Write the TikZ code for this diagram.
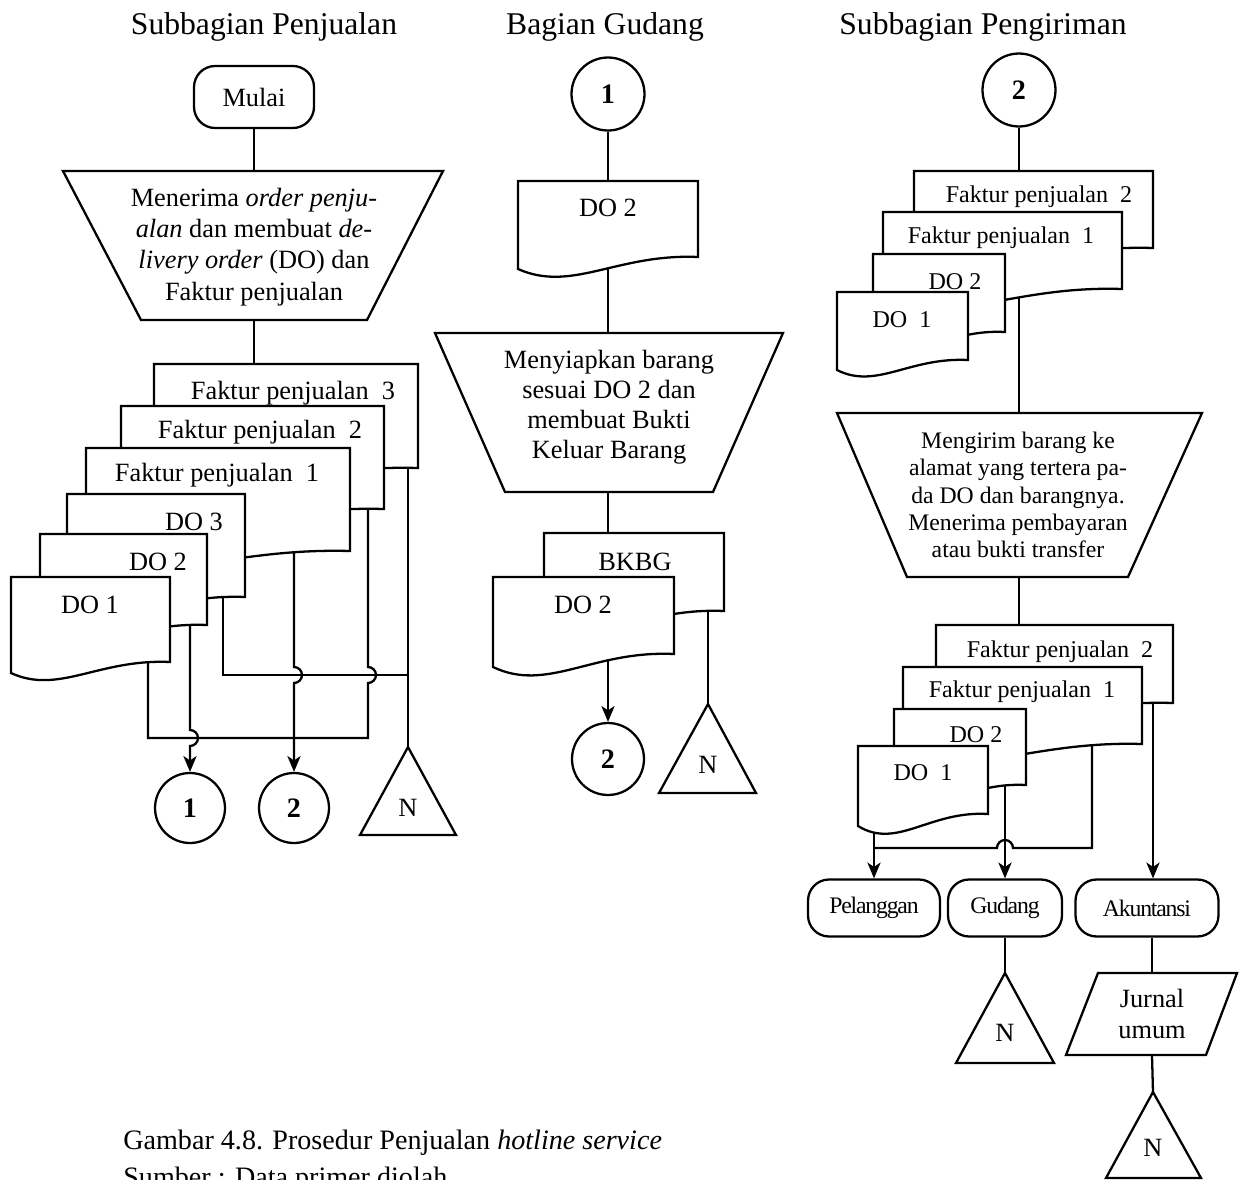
\documentclass[tikz,border=0pt]{standalone}
\usepackage{fontspec}
\setmainfont{Liberation Serif}
\newfontfamily\tightfont[LetterSpace=-5]{Liberation Serif}
\usetikzlibrary{arrows.meta,calc}
\pgfdeclarelayer{bg}
\pgfsetlayers{bg,main}

% name, x0, y0, w, hl, hr, text, textx, texty
\newcommand{\DocShape}[9]{%
  \pgfmathsetmacro\dsR{#2+#4}%
  \pgfmathsetmacro\dsB{#3+#5}%
  \pgfmathsetmacro\dsBR{#3+#6}%
  \pgfmathsetmacro\dsD{#5-#6}%
  \pgfmathsetmacro\dsCax{#2+0.3*#4}%
  \pgfmathsetmacro\dsCay{\dsB+2.0*\dsD}%
  \pgfmathsetmacro\dsCbx{#2+0.55*#4}%
  \pgfmathsetmacro\dsCby{\dsB-1.3*\dsD}%
  \pgfmathsetmacro\dsW{#4*0.02}%
  \pgfmathsetmacro\dsH{#5*0.02}%
  \node[docbox, minimum width=\dsW cm, minimum height=\dsH cm, anchor=north west] (#1) at (#2,#3) {};
  \draw[shapeline, fill=white] (#2,#3) -- (\dsR,#3) -- (\dsR,\dsBR)
     .. controls (\dsCbx,\dsCby) and (\dsCax,\dsCay) .. (#2,\dsB) -- cycle;
  \node[doctext] (#1-t) at (#8,#9) {#7};
}

\begin{document}
\begin{tikzpicture}[x=0.02cm,y=-0.02cm,
  shapeline/.style={line width=1.3pt, line join=miter},
  conn/.style={line width=1.3pt},
  arr/.style={conn, -{Stealth[length=9pt,width=7.5pt,inset=2.5pt]}},
  docbox/.style={draw=none, inner sep=0pt, rectangle},
  doctext/.style={inner sep=0pt, font=\fontsize{15}{17.2}\selectfont},
  rdoc/.style={doctext/.style={inner sep=0pt, font=\fontsize{13.7}{16}\selectfont}},
  title/.style={inner sep=0pt, font=\fontsize{18}{21}\selectfont},
  txt/.style={inner sep=0pt, align=center, font=\fontsize{15}{17.4}\selectfont},
  term/.style={draw, line width=1.3pt, rounded corners=12pt, fill=white, inner sep=0pt},
  circ/.style={draw, circle, line width=1.3pt, fill=white, inner sep=0pt,
     font=\bfseries\fontsize{16}{18}\selectfont},
  ntext/.style={inner sep=0pt, font=\fontsize{15}{17}\selectfont}
]
\useasboundingbox (0,0) rectangle (1242,1180);
\begin{pgfonlayer}{bg}
  \fill[white] (0,0) rectangle (1242,1180);
\end{pgfonlayer}

% ---------- titles
\node[title] (hdA) at (264,27) {Subbagian Penjualan};
\node[title] (hdB) at (605,27) {Bagian Gudang};
\node[title] (hdC) at (983,27) {Subbagian Pengiriman};

% ================= LEFT COLUMN
\node[term, minimum width=2.4cm, minimum height=1.24cm, font=\fontsize{15}{17}\selectfont] (mulai) at (254,97) {Mulai};

\draw[shapeline, fill=white] (63,171) -- (443,171) -- (367,320) -- (141,320) -- cycle;
\coordinate (t1top) at (254,171);
\coordinate (t1bot) at (254,320);
\node[txt, font=\fontsize{15}{17.8}\selectfont] (t1) at (254,247)
  {Menerima \textit{order penju-}\\\textit{alan} dan membuat \textit{de-}\\\textit{livery order} (DO) dan\\Faktur penjualan};

\DocShape{fp3}{154}{364}{264}{115}{104}{Faktur penjualan~~3}{293}{393}
\DocShape{fp2}{121}{406}{263}{114}{103}{Faktur penjualan~~2}{260}{432}
\DocShape{fp1}{86}{448}{264}{114}{103}{Faktur penjualan~~1}{217}{475}
\DocShape{do3}{67}{494}{178}{114}{103}{DO 3}{194}{522}
\DocShape{do2}{40}{534}{167}{102}{91}{DO 2}{158}{562}
\DocShape{do1}{11}{577}{159}{96}{85}{DO 1}{90}{605}

\coordinate (pfp3) at (408,420);
\coordinate (pfp2) at (368,470);
\coordinate (pfp1) at (294,520);
\coordinate (pdo3) at (223,560);
\coordinate (pdo2) at (190,600);
\coordinate (pdo1) at (148,640);
\coordinate (jL1) at (408,675);

\node[circ, minimum size=1.4cm] (c1L) at (190,808) {1};
\node[circ, minimum size=1.4cm] (c2L) at (294,808) {2};

\draw[shapeline, fill=white] (408,747) -- (456,835) -- (360,835) -- cycle;
\coordinate (nLtop) at (408,747);
\node[ntext] (nL) at (408,808) {N};

% ================= MIDDLE COLUMN
\node[circ, minimum size=1.46cm] (c1M) at (608,94) {1};
\DocShape{doM}{518}{181}{180}{88}{76}{DO 2}{608}{208}
\coordinate (pdoM) at (608,230);

\draw[shapeline, fill=white] (435,333) -- (783,333) -- (713,492) -- (505,492) -- cycle;
\coordinate (t2top) at (608,333);
\coordinate (t2bot) at (608,492);
\node[txt, font=\fontsize{15}{17.1}\selectfont] (t2) at (609,407)
  {Menyiapkan barang\\sesuai DO 2 dan\\membuat Bukti\\Keluar Barang};

\DocShape{bkbg}{544}{533}{180}{90}{78}{BKBG}{635}{562}
\DocShape{doM2}{493}{577}{181}{90}{77}{DO 2}{583}{605}
\coordinate (pbkbg) at (708,580);
\coordinate (pdoM2) at (608,630);

\node[circ, minimum size=1.44cm] (c2M) at (608,759) {2};
\draw[shapeline, fill=white] (708,704) -- (756,793) -- (659,793) -- cycle;
\coordinate (nMtop) at (708,704);
\node[ntext] (nM) at (708,765) {N};

% ================= RIGHT COLUMN
\node[circ, minimum size=1.46cm] (c2R) at (1019,90) {2};

\begin{scope}[rdoc]
\DocShape{rfp2}{914}{171}{239}{88}{77}{Faktur penjualan~~2}{1039}{197}
\DocShape{rfp1}{883}{212}{239}{89}{77}{Faktur penjualan~~1}{1001}{238}
\DocShape{rdo2}{873}{254}{132}{89}{78}{DO 2}{955}{282}
\DocShape{rdo1}{837}{292}{131}{78}{68}{DO~~1}{902}{320}
\end{scope}
\coordinate (prfp1) at (1019,260);

\draw[shapeline, fill=white] (837,413) -- (1202,413) -- (1128,577) -- (907,577) -- cycle;
\coordinate (t3top) at (1019,413);
\coordinate (t3bot) at (1019,577);
\node[txt, font=\fontsize{13.5}{15.6}\selectfont] (t3) at (1018,495)
  {Mengirim barang ke\\alamat yang tertera pa-\\da DO dan barangnya.\\Menerima pembayaran\\atau bukti transfer};

\begin{scope}[rdoc]
\DocShape{sfp2}{936}{625}{237}{89}{78}{Faktur penjualan~~2}{1060}{652}
\DocShape{sfp1}{903}{667}{239}{88}{77}{Faktur penjualan~~1}{1022}{692}
\DocShape{sdo2}{894}{709}{132}{87}{76}{DO 2}{976}{735}
\DocShape{sdo1}{858}{746}{130}{80}{68}{DO~~1}{923}{773}
\end{scope}
\coordinate (psfp2) at (1153,680);
\coordinate (psfp1) at (1092,720);
\coordinate (psdo2) at (1005,760);
\coordinate (psdo1) at (874,800);
\coordinate (jR) at (874,848);

\node[term, minimum width=2.64cm, minimum height=1.14cm, font=\tightfont\fontsize{13.5}{15}\selectfont] (pel) at (874,908) {Pelanggan};
\node[term, minimum width=2.28cm, minimum height=1.14cm, font=\tightfont\fontsize{13.5}{15}\selectfont] (gud) at (1005,908) {Gudang};
\node[term, minimum width=2.86cm, minimum height=1.14cm, font=\tightfont\fontsize{13.5}{15}\selectfont] (aku) at (1147,908) {Akuntansi};

\draw[shapeline, fill=white] (956,1063) -- (1005,973) -- (1054,1063) -- cycle;
\coordinate (nR1top) at (1005,973);
\node[ntext] (nR1) at (1005,1033) {N};

\draw[shapeline, fill=white] (1098,973) -- (1237,973) -- (1206,1055) -- (1066,1055) -- cycle;
\node[txt, minimum height=1.64cm] (jur) at (1152,1014) {Jurnal\\umum};

\draw[shapeline, fill=white] (1106,1178) -- (1153,1092) -- (1201,1178) -- cycle;
\coordinate (nR2top) at (1153,1092);
\node[ntext] (nR2) at (1153,1148) {N};

% ---------- caption
\node[anchor=base west, inner sep=0pt, font=\fontsize{16}{19}\selectfont] (cap1) at (123,1149)
  {Gambar 4.8. Prosedur Penjualan \textit{hotline service}};
\node[anchor=base west, inner sep=0pt, font=\fontsize{16}{19}\selectfont] (cap2) at (123,1186)
  {Sumber : Data primer diolah};

% ================= CONNECTORS (behind shapes)
\begin{pgfonlayer}{bg}
  % left
  \draw[conn] (mulai.south) -- (t1top);
  \draw[conn] (t1bot) -- (t1bot |- fp3.north);
  \draw[conn] (pfp3) -- (nLtop);
  \draw[conn] (pdo3) |- (jL1);
  \draw[arr] (pfp1) -- (294,667) arc[start angle=-90, end angle=90, radius=8] -- (c2L.north);
  \draw[conn] (pfp2) -- (368,667) arc[start angle=-90, end angle=90, radius=8] -- (368,738) -| (pdo1);
  \draw[arr] (pdo2) -- (190,730) arc[start angle=-90, end angle=90, radius=8] -- (c1L.north);
  % middle
  \draw[conn] (c1M.south) -- (c1M |- doM.north);
  \draw[conn] (pdoM) -- (t2top);
  \draw[conn] (t2bot) -- (t2bot |- bkbg.north);
  \draw[arr] (pdoM2) -- (c2M.north);
  \draw[conn] (pbkbg) -- (nMtop);
  % right
  \draw[conn] (c2R.south) -- (c2R |- rfp2.north);
  \draw[conn] (prfp1) -- (t3top);
  \draw[conn] (t3bot) -- (t3bot |- sfp2.north);
  \draw[arr] (psdo1) -- (pel.north);
  \draw[conn] (psfp1) |- (1013,848) arc[start angle=0, end angle=-180, radius=8] -- (jR);
  \draw[arr] (psdo2) -- (gud.north);
  \draw[arr] (psfp2) -- (psfp2 |- aku.north);
  \draw[conn] (gud.south) -- (nR1top);
  \draw[conn] (jur.north |- aku.south) -- (jur.north);
  \draw[conn] (jur.south) -- (nR2top);
\end{pgfonlayer}
\end{tikzpicture}
\end{document}
